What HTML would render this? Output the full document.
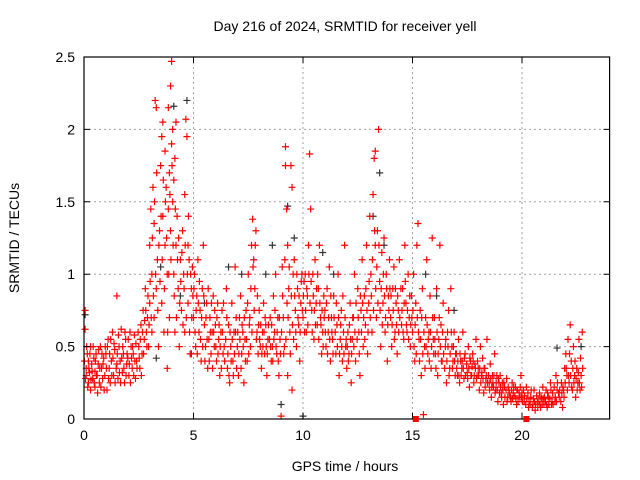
<!DOCTYPE html>
<html><head><meta charset="utf-8"><style>
html,body{margin:0;padding:0;background:#fff;}
svg{display:block;font-family:"Liberation Sans",sans-serif;}
</style></head><body>
<svg id="chart" width="640" height="480" viewBox="0 0 640 480">
<rect width="640" height="480" fill="#fff"/>
<text x="345" y="31" font-size="14" text-anchor="middle">Day 216 of 2024, SRMTID for receiver yell</text>
<text x="345" y="471" font-size="14" text-anchor="middle">GPS time / hours</text>
<text transform="translate(19,238) rotate(-90)" font-size="14" text-anchor="middle">SRMTID / TECUs</text>
<g id="grid"></g><g id="marks"></g><g id="axes"></g>
</svg>
<script>
const xTicks=[0,5,10,15,20];
const yTicks=[0,0.5,1,1.5,2,2.5];
const yTickLabels=["0","0.5","1","1.5","2","2.5"];
const blackPoints=[[0.05,0.72],[3.5,1.05],[4.1,2.16],[4.7,2.2],[4.9,0.45],[5.5,0.8],[6.6,1.05],[7.2,1.0],[8.3,1.0],[8.6,1.2],[9.0,0.1],[9.3,1.47],[9.6,1.25],[10.0,0.02],[10.9,1.15],[11.4,1.0],[13.2,1.4],[13.5,1.7],[13.7,1.2],[15.6,1.0],[16.1,0.85],[16.9,0.75],[21.6,0.49],[22.7,0.5],[3.3,0.42],[4.4,0.85]];
const redPoints=[[0.05,0.75],[0.05,0.62],[0.1,0.35],[0.1,0.3],[0.15,0.45],[0.2,0.25],[0.2,0.4],[0.25,0.32],[0.3,0.2],[0.3,0.5],[0.35,0.38],[0.4,0.28],[0.45,0.42],[0.5,0.33],[0.5,0.22],[0.55,0.45],[0.6,0.3],[0.65,0.38],[0.7,0.25],[0.75,0.5],[0.8,0.35],[0.85,0.28],[0.9,0.42],[0.95,0.3],
[1.0,0.45],[1.05,0.2],[1.1,0.55],[1.15,0.35],[1.2,0.25],[1.25,0.4],[1.3,0.6],[1.35,0.3],[1.4,0.48],[1.5,0.85],[1.5,0.38],[1.55,0.28],[1.6,0.5],[1.65,0.4],[1.7,0.62],[1.75,0.32],[1.8,0.45],[1.85,0.25],[1.9,0.55],[1.95,0.38],
[2.0,0.42],[2.05,0.3],[2.1,0.6],[2.15,0.5],[2.2,0.35],[2.25,0.45],[2.3,0.58],[2.35,0.28],[2.4,0.4],[2.5,0.5],[2.55,0.35],[2.6,0.65],[2.65,0.45],[2.7,0.75],[2.75,0.55],[2.8,0.9],[2.85,0.6],[2.9,0.7],[2.95,0.5],
[3.0,1.2],[3.0,0.8],[3.05,1.45],[3.1,1.0],[3.1,0.6],[3.15,1.6],[3.2,1.35],[3.2,0.7],[3.25,2.2],[3.3,2.15],[3.3,0.9],[3.35,1.1],[3.4,0.5],[3.45,1.3],[3.5,1.75],[3.55,1.95],[3.55,0.8],[3.6,2.05],[3.6,1.4],[3.65,0.6],[3.7,1.2],[3.7,1.85],[3.75,1.6],[3.8,1.0],[3.8,0.35],[3.85,2.15],[3.85,1.45],[3.9,1.7],[3.9,0.7],[3.95,2.3],[3.95,1.3],[4.0,2.47],[4.0,1.9],
[4.05,2.0],[4.05,1.5],[4.1,1.65],[4.1,1.0],[4.15,1.8],[4.15,0.6],[4.2,2.05],[4.2,1.2],[4.25,1.4],[4.3,0.9],[4.35,0.5],[4.4,1.1],[4.45,0.75],[4.5,1.3],[4.55,1.0],[4.6,0.6],[4.6,1.55],[4.65,2.07],[4.7,1.95],[4.75,1.2],[4.75,0.8],[4.8,1.1],[4.85,0.45],[4.9,0.9],[4.95,1.05],
[5.0,0.7],[5.05,1.0],[5.1,0.5],[5.15,0.85],[5.2,1.1],[5.25,0.6],[5.3,0.75],[5.35,0.4],[5.4,0.9],[5.45,1.2],[5.5,0.65],[5.55,0.5],[5.6,0.8],[5.65,0.35],[5.7,0.55],[5.75,0.7],[5.8,0.45],[5.85,0.6],[5.9,0.85],[5.95,0.5],
[6.0,0.65],[6.05,0.4],[6.1,0.8],[6.15,0.55],[6.2,0.3],[6.25,0.6],[6.3,0.75],[6.35,0.45],[6.4,0.5],[6.5,0.9],[6.55,0.35],[6.6,0.65],[6.65,0.25],[6.7,0.5],[6.75,0.8],[6.8,0.4],[6.85,0.6],[6.9,1.05],[6.95,0.7],
[7.0,0.5],[7.05,0.3],[7.1,0.7],[7.15,0.85],[7.2,0.45],[7.25,0.6],[7.3,0.25],[7.35,0.55],[7.4,0.75],[7.45,0.4],[7.5,1.0],[7.55,0.65],[7.6,0.5],[7.65,1.2],[7.7,1.38],[7.75,1.1],[7.8,0.9],[7.85,1.3],[7.9,0.6],[7.95,0.45],
[8.0,0.75],[8.05,0.5],[8.1,0.35],[8.15,0.6],[8.2,0.8],[8.25,0.45],[8.3,0.65],[8.35,0.3],[8.4,0.55],[8.5,0.7],[8.55,0.4],[8.6,0.5],[8.65,0.85],[8.7,0.6],[8.75,1.0],[8.8,0.45],[8.85,0.7],[8.9,0.3],[8.95,0.55],
[9.0,0.02],[9.05,1.05],[9.1,0.7],[9.15,0.5],[9.2,1.88],[9.2,1.75],[9.25,1.45],[9.3,1.2],[9.3,0.3],[9.35,0.9],[9.4,0.6],[9.45,1.75],[9.5,1.6],[9.5,0.2],[9.55,1.0],[9.6,1.1],[9.65,0.75],[9.7,0.5],[9.75,0.9],[9.8,0.65],[9.85,0.4],[9.9,0.8],[9.95,1.0],
[10.0,0.7],[10.05,0.95],[10.1,1.0],[10.15,0.6],[10.2,0.85],[10.25,1.2],[10.3,1.83],[10.35,1.45],[10.4,0.75],[10.45,1.0],[10.5,0.55],[10.55,1.1],[10.6,0.8],[10.65,0.65],[10.7,0.9],[10.75,1.2],[10.8,0.7],[10.85,0.45],[10.9,0.6],[10.95,0.85],
[11.0,0.75],[11.05,0.5],[11.1,0.9],[11.15,0.6],[11.2,1.05],[11.25,0.4],[11.3,0.7],[11.35,0.55],[11.4,0.85],[11.5,0.45],[11.55,0.65],[11.6,1.0],[11.65,0.3],[11.7,0.55],[11.75,0.75],[11.8,0.4],[11.85,0.6],[11.9,1.2],[11.95,0.5],
[12.0,0.35],[12.05,0.6],[12.1,0.45],[12.15,0.8],[12.2,0.25],[12.25,0.55],[12.3,0.7],[12.35,1.0],[12.4,0.4],[12.5,0.9],[12.55,0.6],[12.6,0.3],[12.65,0.75],[12.7,1.1],[12.75,0.5],[12.8,0.85],[12.85,0.65],[12.9,1.2],[12.95,0.45],
[13.0,0.8],[13.05,1.4],[13.1,1.0],[13.15,0.6],[13.2,1.55],[13.25,1.8],[13.3,1.85],[13.3,1.2],[13.35,0.7],[13.4,1.3],[13.45,2.0],[13.5,0.95],[13.55,0.5],[13.6,1.15],[13.65,0.8],[13.7,1.25],[13.75,0.6],[13.8,1.0],[13.85,0.4],[13.9,0.85],[13.95,1.1],
[14.0,0.7],[14.05,0.5],[14.1,0.9],[14.15,1.05],[14.2,0.6],[14.25,0.8],[14.3,0.45],[14.35,0.75],[14.4,1.1],[14.5,0.65],[14.55,0.9],[14.6,0.55],[14.65,1.2],[14.7,0.8],[14.75,0.6],[14.8,1.0],[14.85,0.7],[14.9,0.5],[14.95,0.85],
[15.0,0.6],[15.05,1.0],[15.1,0.4],[15.15,0.8],[15.2,1.2],[15.25,1.35],[15.3,0.55],[15.35,0.75],[15.4,0.3],[15.45,0.9],[15.5,0.03],[15.55,0.5],[15.6,0.7],[15.65,1.1],[15.7,0.45],[15.75,0.6],[15.8,0.85],[15.85,0.35],[15.9,1.25],[15.95,0.55],
[16.0,0.7],[16.05,0.45],[16.1,0.9],[16.15,0.3],[16.2,0.55],[16.25,1.2],[16.3,0.65],[16.35,0.4],[16.4,0.8],[16.5,0.5],[16.55,0.25],[16.6,0.6],[16.65,0.75],[16.7,0.35],[16.75,0.9],[16.8,0.5],[16.85,0.4],[16.9,0.6],[16.95,0.3],
[17.0,0.45],[17.05,0.3],[17.1,0.55],[17.15,0.25],[17.2,0.4],[17.25,0.35],[17.3,0.6],[17.35,0.28],[17.4,0.45],[17.5,0.32],[17.55,0.5],[17.6,0.22],[17.65,0.4],[17.7,0.3],[17.75,0.45],[17.8,0.25],[17.85,0.38],[17.9,0.55],[17.95,0.3],
[18.0,0.35],[18.05,0.2],[18.1,0.5],[18.15,0.3],[18.2,0.42],[18.25,0.18],[18.3,0.35],[18.35,0.28],[18.4,0.55],[18.5,0.25],[18.55,0.38],[18.6,0.15],[18.65,0.3],[18.7,0.22],[18.75,0.45],[18.8,0.2],[18.85,0.3],[18.9,0.12],[18.95,0.25],
[19.0,0.3],[19.05,0.18],[19.1,0.25],[19.15,0.1],[19.2,0.22],[19.3,0.28],[19.35,0.15],[19.4,0.2],[19.5,0.12],[19.55,0.25],[19.6,0.18],[19.7,0.22],[19.75,0.1],[19.8,0.2],[19.9,0.15],[19.95,0.3],
[20.0,0.18],[20.1,0.12],[20.2,0.22],[20.3,0.08],[20.4,0.15],[20.5,0.1],[20.55,0.2],[20.6,0.06],[20.7,0.12],[20.8,0.18],[20.85,0.08],[20.9,0.14],[20.95,0.22],
[21.0,0.1],[21.1,0.2],[21.15,0.08],[21.2,0.15],[21.3,0.25],[21.35,0.1],[21.4,0.18],[21.5,0.12],[21.55,0.3],[21.6,0.2],[21.7,0.15],[21.8,0.25],[21.85,0.08],[21.9,0.2],[21.95,0.35],
[22.0,0.45],[22.05,0.3],[22.1,0.55],[22.15,0.25],[22.2,0.65],[22.25,0.4],[22.3,0.2],[22.35,0.5],[22.4,0.3],[22.45,0.15],[22.5,0.35],[22.55,0.25],[22.6,0.55],[22.65,0.2],[22.7,0.3],[22.75,0.6]];
const redPointsCore=[[0.02,0.4],[0.07,0.28],[0.12,0.5],[0.17,0.22],[0.22,0.35],[0.27,0.45],[0.32,0.27],[0.37,0.33],[0.42,0.5],[0.47,0.25],[0.52,0.4],[0.57,0.3],[0.62,0.18],[0.67,0.48],[0.72,0.35],[0.77,0.22],[0.82,0.45],[0.87,0.38],[0.92,0.2],[0.97,0.5],
[1.02,0.35],[1.07,0.5],[1.12,0.28],[1.17,0.45],[1.22,0.55],[1.27,0.3],[1.32,0.42],[1.37,0.52],[1.42,0.25],[1.47,0.35],[1.52,0.45],[1.57,0.58],[1.62,0.32],[1.67,0.25],[1.72,0.42],[1.77,0.5],[1.82,0.35],[1.87,0.6],[1.92,0.3],[1.97,0.45],
[2.02,0.55],[2.07,0.38],[2.12,0.25],[2.17,0.42],[2.22,0.5],[2.27,0.3],[2.32,0.4],[2.37,0.52],[2.42,0.35],[2.47,0.6],[2.52,0.42],[2.57,0.55],[2.62,0.3],[2.67,0.6],[2.72,0.45],[2.77,0.68],[2.82,0.75],[2.87,0.5],[2.92,0.85],[2.97,0.65],
[3.02,0.95],[3.07,0.7],[3.12,1.25],[3.17,0.85],[3.22,1.5],[3.27,1.0],[3.32,1.7],[3.37,0.75],[3.42,1.2],[3.47,0.95],[3.52,1.4],[3.57,1.1],[3.62,1.65],[3.67,0.9],[3.72,1.5],[3.77,1.25],[3.82,0.6],[3.87,1.0],[3.92,1.55],[3.97,1.1],
[4.02,1.75],[4.07,1.2],[4.12,0.85],[4.17,1.45],[4.22,0.7],[4.27,1.1],[4.32,1.25],[4.37,0.8],[4.42,0.95],[4.47,1.15],[4.52,0.65],[4.57,0.9],[4.62,1.2],[4.67,0.7],[4.72,1.0],[4.77,1.4],[4.82,0.6],[4.87,1.0],[4.92,0.7],[4.97,0.85],
[5.02,0.9],[5.07,0.6],[5.12,0.75],[5.17,0.45],[5.22,0.8],[5.27,0.95],[5.32,0.55],[5.37,0.7],[5.42,0.5],[5.47,0.85],[5.52,0.4],[5.57,0.7],[5.62,0.55],[5.67,0.9],[5.72,0.4],[5.77,0.6],[5.82,0.8],[5.87,0.35],[5.92,0.6],[5.97,0.75],
[6.02,0.5],[6.07,0.7],[6.12,0.45],[6.17,0.65],[6.22,0.5],[6.27,0.35],[6.32,0.6],[6.37,0.8],[6.42,0.4],[6.47,0.55],[6.52,0.7],[6.57,0.45],[6.62,0.3],[6.67,0.6],[6.72,0.4],[6.77,0.55],[6.82,0.3],[6.87,0.45],[6.92,0.6],[6.97,0.35],
[7.02,0.6],[7.07,0.45],[7.12,0.55],[7.17,0.35],[7.22,0.65],[7.27,0.5],[7.32,0.7],[7.37,0.4],[7.42,0.55],[7.47,0.8],[7.52,0.45],[7.57,0.7],[7.62,0.9],[7.67,0.6],[7.72,1.05],[7.77,0.75],[7.82,1.2],[7.87,0.55],[7.92,0.85],[7.97,0.65],
[8.02,0.55],[8.07,0.65],[8.12,0.45],[8.17,0.5],[8.22,0.6],[8.27,0.7],[8.32,0.5],[8.37,0.45],[8.42,0.65],[8.47,0.55],[8.52,0.5],[8.57,0.65],[8.62,0.4],[8.67,0.55],[8.72,0.75],[8.77,0.5],[8.82,0.6],[8.87,0.4],[8.92,0.7],[8.97,0.45],
[9.02,0.6],[9.07,0.85],[9.12,0.45],[9.17,1.1],[9.22,0.55],[9.27,0.8],[9.32,0.7],[9.37,1.05],[9.42,0.45],[9.47,0.85],[9.52,0.65],[9.57,0.55],[9.62,0.85],[9.67,0.6],[9.72,1.0],[9.77,0.7],[9.82,0.85],[9.87,0.6],[9.92,0.95],[9.97,0.75],
[10.02,0.85],[10.07,0.6],[10.12,0.75],[10.17,0.9],[10.22,0.65],[10.27,1.0],[10.32,0.8],[10.37,0.95],[10.42,0.6],[10.47,0.85],[10.52,0.75],[10.57,0.65],[10.62,0.9],[10.67,1.0],[10.72,0.55],[10.77,0.8],[10.82,0.65],[10.87,0.75],[10.92,0.5],[10.97,0.7],
[11.02,0.6],[11.07,0.8],[11.12,0.45],[11.17,0.7],[11.22,0.55],[11.27,0.85],[11.32,0.6],[11.37,0.45],[11.42,0.7],[11.47,0.6],[11.52,0.8],[11.57,0.5],[11.62,0.7],[11.67,0.45],[11.72,0.65],[11.77,0.5],[11.82,0.85],[11.87,0.45],[11.92,0.7],[11.97,0.55],
[12.02,0.5],[12.07,0.4],[12.12,0.65],[12.17,0.55],[12.22,0.45],[12.27,0.7],[12.32,0.5],[12.37,0.6],[12.42,0.8],[12.47,0.55],[12.52,0.7],[12.57,0.45],[12.62,0.85],[12.67,0.6],[12.72,0.8],[12.77,0.7],[12.82,0.55],[12.87,0.9],[12.92,0.75],[12.97,0.6],
[13.02,0.95],[13.07,0.7],[13.12,0.85],[13.17,1.1],[13.22,0.75],[13.27,1.3],[13.32,0.9],[13.37,1.05],[13.42,0.8],[13.47,1.2],[13.52,0.75],[13.57,0.9],[13.62,0.65],[13.67,1.0],[13.72,0.85],[13.77,0.7],[13.82,0.9],[13.87,0.65],[13.92,0.75],[13.97,0.9],
[14.02,0.85],[14.07,0.65],[14.12,0.75],[14.17,0.55],[14.22,0.9],[14.27,0.65],[14.32,0.85],[14.37,0.6],[14.42,0.7],[14.47,0.9],[14.52,0.75],[14.57,0.6],[14.62,0.8],[14.67,0.95],[14.72,0.65],[14.77,0.75],[14.82,0.55],[14.87,0.85],[14.92,0.65],[14.97,0.7],
[15.02,0.75],[15.07,0.5],[15.12,0.65],[15.17,0.45],[15.22,0.7],[15.27,0.6],[15.32,0.4],[15.37,0.55],[15.42,0.7],[15.47,0.45],[15.52,0.6],[15.57,0.35],[15.62,0.5],[15.67,0.65],[15.72,0.55],[15.77,0.4],[15.82,0.6],[15.87,0.5],[15.92,0.7],[15.97,0.45],
[16.02,0.55],[16.07,0.35],[16.12,0.6],[16.17,0.45],[16.22,0.7],[16.27,0.5],[16.32,0.4],[16.37,0.6],[16.42,0.45],[16.47,0.35],[16.52,0.55],[16.57,0.4],[16.62,0.5],[16.67,0.3],[16.72,0.45],[16.77,0.6],[16.82,0.35],[16.87,0.5],[16.92,0.4],[16.97,0.45],
[17.02,0.35],[17.07,0.4],[17.12,0.3],[17.17,0.45],[17.22,0.3],[17.27,0.4],[17.32,0.35],[17.37,0.42],[17.42,0.3],[17.47,0.38],[17.52,0.28],[17.57,0.35],[17.62,0.42],[17.67,0.3],[17.72,0.36],[17.77,0.4],[17.82,0.3],[17.87,0.35],[17.92,0.28],[17.97,0.4],
[18.02,0.3],[18.07,0.35],[18.12,0.25],[18.17,0.32],[18.22,0.28],[18.27,0.35],[18.32,0.22],[18.37,0.3],[18.42,0.25],[18.47,0.3],[18.52,0.2],[18.57,0.28],[18.62,0.22],[18.67,0.25],[18.72,0.3],[18.77,0.18],[18.82,0.25],[18.87,0.2],[18.92,0.28],[18.97,0.18],
[19.02,0.22],[19.07,0.15],[19.12,0.2],[19.17,0.25],[19.22,0.15],[19.27,0.2],[19.32,0.12],[19.37,0.22],[19.42,0.18],[19.47,0.15],[19.52,0.2],[19.57,0.14],[19.62,0.22],[19.67,0.16],[19.72,0.14],[19.77,0.2],[19.82,0.12],[19.87,0.18],[19.92,0.22],[19.97,0.15],
[20.02,0.12],[20.07,0.2],[20.12,0.16],[20.17,0.1],[20.22,0.14],[20.27,0.18],[20.32,0.12],[20.37,0.1],[20.42,0.2],[20.47,0.08],[20.52,0.14],[20.57,0.12],[20.62,0.1],[20.67,0.16],[20.72,0.08],[20.77,0.12],[20.82,0.1],[20.87,0.15],[20.92,0.1],[20.97,0.14],
[21.02,0.15],[21.07,0.12],[21.12,0.1],[21.17,0.18],[21.22,0.1],[21.27,0.14],[21.32,0.2],[21.37,0.12],[21.42,0.1],[21.47,0.22],[21.52,0.15],[21.57,0.12],[21.62,0.25],[21.67,0.18],[21.72,0.2],[21.77,0.12],[21.82,0.18],[21.87,0.22],[21.92,0.15],[21.97,0.25],
[22.02,0.35],[22.07,0.2],[22.12,0.3],[22.17,0.45],[22.22,0.3],[22.27,0.22],[22.32,0.35],[22.37,0.25],[22.42,0.4],[22.47,0.28],[22.52,0.2],[22.57,0.32],[22.62,0.25],[22.67,0.42],[22.72,0.22],[22.77,0.35]];
const gapMarkers=[15.15,20.2];

const L=84,R=609.6,T=57,B=419,XMAX=24,YMAX=2.5;
const xs=v=>L+(R-L)*v/XMAX;
const ys=v=>B-(B-T)*v/YMAX;
const NS="http://www.w3.org/2000/svg";
function mk(tag,attrs,parent){const e=document.createElementNS(NS,tag);for(const k in attrs)e.setAttribute(k,attrs[k]);parent.appendChild(e);return e;}
const grid=document.getElementById('grid'),marks=document.getElementById('marks'),axes=document.getElementById('axes');

xTicks.forEach(t=>{
  const x=xs(t);
  if(t>0){const g=mk('line',{x1:x,y1:T,x2:x,y2:B,stroke:'#a0a0a0','stroke-dasharray':'2,3'},grid);
  
  }
  const tk=mk('path',{d:`M${x},${B}v-6M${x},${T}v6`,stroke:'#000'},axes);
  
  
  const lb=mk('text',{x:x,y:B+21,'font-size':14,'text-anchor':'middle'},axes);
  lb.textContent=String(t);
  
  
});
yTicks.forEach((t,i)=>{
  const y=ys(t);
  if(t>0&&t<YMAX){const g=mk('line',{x1:L,y1:y,x2:R,y2:y,stroke:'#a0a0a0','stroke-dasharray':'2,3'},grid);
  
  }
  const tk=mk('path',{d:`M${L},${y}h6M${R},${y}h-6`,stroke:'#000'},axes);
  
  
  const lb=mk('text',{x:L-9,y:y+5,'font-size':14,'text-anchor':'end'},axes);
  lb.textContent=yTickLabels[i];
  
  
});
const frame=mk('rect',{x:L,y:T,width:R-L,height:B-T,fill:'none',stroke:'#000','stroke-width':1.2},axes);



function plus(p,color,name){
  const x=xs(p[0]),y=ys(p[1]);
  const e=mk('path',{d:`M${x-3.5},${y}h7M${x},${y-3.5}v7`,stroke:color,'stroke-width':1.2},marks);
  
  
}
blackPoints.forEach(p=>plus(p,'#333','black-point'));
redPoints.forEach(p=>plus(p,'#ff0000','red-point'));
redPointsCore.forEach(p=>plus(p,'#ff0000','red-point'));
gapMarkers.forEach(t=>{
  const s=mk('rect',{x:xs(t)-3,y:B-3,width:6,height:6,fill:'#ff0000'},axes);
  
  
});
</script>
</body></html>
